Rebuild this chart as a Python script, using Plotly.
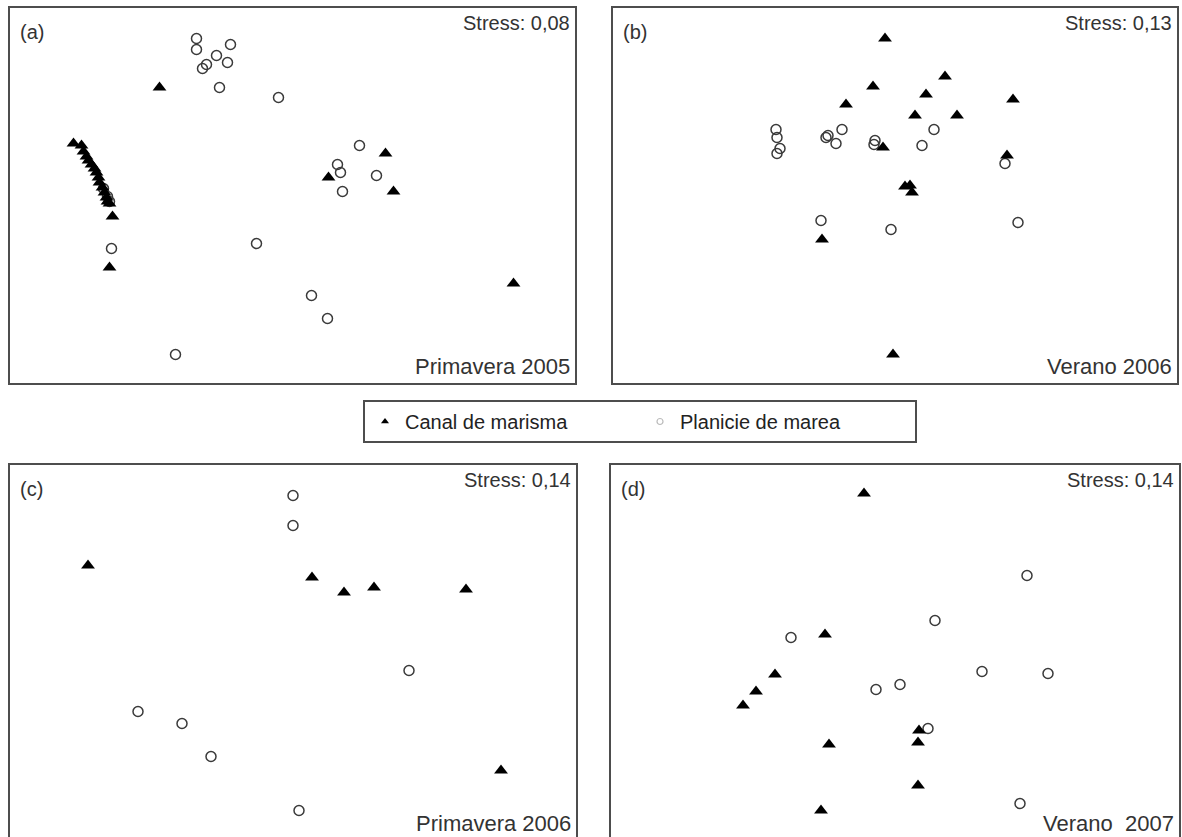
import plotly.graph_objects as go

W, H = 1182, 837

# ---------------- data (NMDS coordinates) ----------------
# Panel (a) Primavera 2005
a_canal_x = [-1.33, 0.93, 0.36, 1.01, 2.21, -1.80, -1.83,
             -2.19, -2.11, -2.09, -2.06, -2.04, -2.01, -1.98, -1.96, -1.94,
             -1.93, -1.90, -1.88, -1.86, -1.85, -1.83]
a_canal_y = [1.08, 0.42, 0.18, 0.04, -0.88, -0.21, -0.72,
             0.52, 0.50, 0.44, 0.39, 0.35, 0.31, 0.27, 0.23, 0.18,
             0.13, 0.08, 0.03, -0.02, -0.06, -0.08]
a_plan_x = [-0.96, -0.96, -0.76, -0.62, -0.65, -0.86, -0.90, -0.73, -0.14,
            -0.36, -1.81, -1.17, 0.67, 0.45, 0.48, 0.84, 0.50, 0.19, 0.35,
            -1.89, -1.85, -1.83]
a_plan_y = [1.57, 1.46, 1.40, 1.51, 1.33, 1.31, 1.27, 1.08, 0.98,
            -0.48, -0.53, -1.59, 0.50, 0.31, 0.23, 0.20, 0.04, -1.00, -1.23,
            0.07, -0.01, -0.06]

# Panel (b) Verano 2006
b_canal_x = [-0.10, -0.22, -0.49, 0.50, 0.31, 0.20, 0.62, 1.18, -0.12, 1.12,
             0.10, 0.15, 0.17, -0.02, -0.73]
b_canal_y = [1.57, 1.09, 0.91, 1.19, 1.01, 0.80, 0.80, 0.96, 0.48, 0.40,
             0.09, 0.10, 0.03, -1.59, -0.44]
b_plan_x = [-1.19, -1.18, -1.15, -1.18, -0.69, -0.67, -0.59, -0.53, -0.20,
            -0.21, -0.74, 0.39, 0.27, 1.10, 1.23, -0.04]
b_plan_y = [0.66, 0.58, 0.47, 0.42, 0.58, 0.60, 0.52, 0.66, 0.55,
            0.51, -0.25, 0.66, 0.50, 0.32, -0.27, -0.34]

# Panel (c) Primavera 2006
c_canal_x = [-2.05, 0.19, 0.51, 0.81, 1.73, 2.08]
c_canal_y = [0.87, 0.75, 0.60, 0.65, 0.63, -1.18]
c_plan_x = [0.00, 0.00, 1.16, -1.55, -1.11, -0.82, 0.06]
c_plan_y = [1.57, 1.27, -0.18, -0.59, -0.71, -1.04, -1.58]

# Panel (d) Verano 2007
d_canal_x = [-0.31, -0.70, -1.20, -1.39, -1.52, -0.66, 0.24, 0.23, 0.23, -0.74]
d_canal_y = [1.59, 0.18, -0.22, -0.39, -0.53, -0.92, -0.78, -0.90, -1.33, -1.58]
d_plan_x = [1.32, 0.40, -1.04, 0.87, 1.53, -0.19, 0.05, 0.33, 1.25]
d_plan_y = [0.77, 0.32, 0.15, -0.19, -0.21, -0.37, -0.32, -0.76, -1.51]

panel_letters = ["(a)", "(b)", "(c)", "(d)"]
stress_labels = ["Stress: 0,08", "Stress: 0,13", "Stress: 0,14", "Stress: 0,14"]
season_labels = ["Primavera 2005", "Verano 2006", "Primavera 2006", "Verano  2007"]
legend_names = ["Canal de marisma", "Planicie de marea"]

# ---------------- layout geometry (pixels) ----------------
# (left, right, top, bottom) of each panel frame
boxes = [(9, 576, 7, 384), (612, 1178, 7, 384), (9, 577, 464, 841), (610, 1180, 464, 841)]
UNIT = 100.0  # pixels per NMDS unit

def px(x):
    return x / W

def py(y):
    return 1 - y / H

TXT = "#333333"
FONT = "Liberation Sans, Arial, sans-serif"

fig = go.Figure()

datasets = [
    (a_canal_x, a_canal_y, a_plan_x, a_plan_y),
    (b_canal_x, b_canal_y, b_plan_x, b_plan_y),
    (c_canal_x, c_canal_y, c_plan_x, c_plan_y),
    (d_canal_x, d_canal_y, d_plan_x, d_plan_y),
]

shapes = []
annotations = []
for i, ((l, r, t, b), (cx_, cy_, px_, py_)) in enumerate(zip(boxes, datasets)):
    n = "" if i == 0 else str(i + 1)
    xa, ya = "x" + n, "y" + n
    bvis = min(b, H)
    cx = (l + r) / 2
    cy = (t + b) / 2
    xr = [(l - cx) / UNIT, (r - cx) / UNIT]
    yr = [(cy - bvis) / UNIT, (cy - t) / UNIT]
    ax = dict(domain=[px(l), px(r)], range=xr, visible=False, fixedrange=True)
    ay = dict(domain=[py(bvis), py(t)], range=yr, visible=False, fixedrange=True)
    fig.layout["xaxis" + n] = dict(ax, anchor=ya)
    fig.layout["yaxis" + n] = dict(ay, anchor=xa)

    fig.add_trace(go.Scatter(
        x=px_, y=py_, mode="markers", xaxis=xa, yaxis=ya, showlegend=False,
        marker=dict(symbol="circle-open", size=10, color="#3a3a3a", line=dict(width=1.5)),
        hoverinfo="skip"))
    fig.add_trace(go.Scatter(
        x=cx_, y=cy_, mode="markers", xaxis=xa, yaxis=ya, showlegend=False,
        marker=dict(symbol="triangle-up", size=12, color="black", line=dict(width=0)),
        hoverinfo="skip"))

    shapes.append(dict(type="rect", xref="paper", yref="paper",
                       x0=px(l), x1=px(r), y0=py(b), y1=py(t),
                       line=dict(color="#4d4d4d", width=2), fillcolor="rgba(0,0,0,0)"))

    annotations.append(dict(text=panel_letters[i], xref="paper", yref="paper",
                            x=px(l + 9), y=py(t + 25), xanchor="left", yanchor="middle",
                            showarrow=False, font=dict(size=20, color=TXT, family=FONT)))
    annotations.append(dict(text=stress_labels[i], xref="paper", yref="paper",
                            x=px(r - 4), y=py(t + 16), xanchor="right", yanchor="middle",
                            showarrow=False, font=dict(size=20, color=TXT, family=FONT)))
    annotations.append(dict(text=season_labels[i], xref="paper", yref="paper",
                            x=px(r - 4), y=py(t + 359), xanchor="right", yanchor="middle",
                            showarrow=False, font=dict(size=22, color=TXT, family=FONT)))

# legend-only traces
fig.add_trace(go.Scatter(x=[None], y=[None], mode="markers", name=legend_names[0],
                         marker=dict(symbol="triangle-up", size=7, color="black")))
fig.add_trace(go.Scatter(x=[None], y=[None], mode="markers", name=legend_names[1],
                         marker=dict(symbol="circle-open", size=6, color="#bbbbbb",
                                     line=dict(width=1.2))))

fig.update_layout(
    width=W, height=H,
    margin=dict(l=0, r=0, t=0, b=0),
    paper_bgcolor="white", plot_bgcolor="white",
    shapes=shapes, annotations=annotations,
    showlegend=True,
    legend=dict(orientation="h", x=px(363), y=py(400), xanchor="left", yanchor="top",
                bordercolor="#4d4d4d", borderwidth=2, bgcolor="white",
                font=dict(size=20, color="#222222", family=FONT),
                entrywidth=230, entrywidthmode="pixels", itemsizing="trace",
                traceorder="normal"),
    font=dict(family=FONT),
)

fig.write_html("out.html", config={"displayModeBar": False},
               post_script="document.body.style.margin='0';")
